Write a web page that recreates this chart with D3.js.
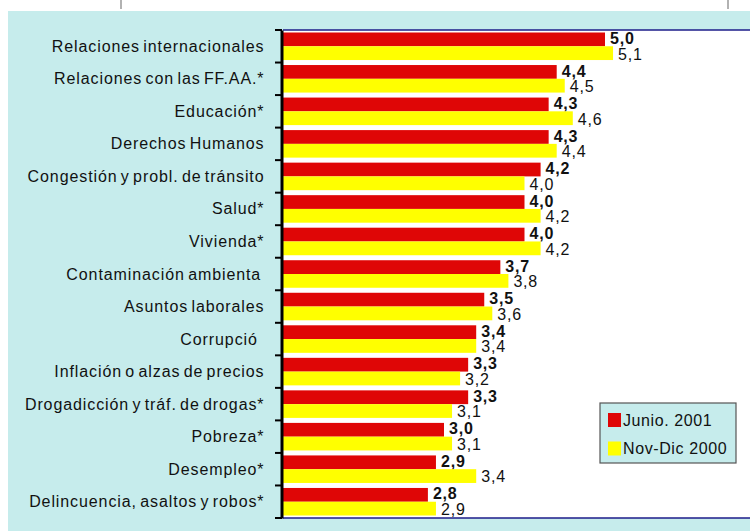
<!DOCTYPE html>
<html lang="es">
<head>
<meta charset="utf-8">
<title>Problemas del país</title>
<script src="https://d3js.org/d3.v7.min.js"></script>
<style>
  body { margin: 0; background: #fff; }
  svg { display: block; font-family: "Liberation Sans", Arial, sans-serif; }
  .cat { font-size: 16px; letter-spacing: 0.9px; word-spacing: -2px; fill: #111; }
  .val { font-size: 16px; letter-spacing: 0.8px; fill: #111; }
  .val.bold { font-weight: bold; }
  .leg { font-size: 16px; letter-spacing: 0.6px; fill: #111; }
</style>
</head>
<body>
<svg width="750" height="531"></svg>
<script>
  // data
  var categories = [
    "Relaciones internacionales",
    "Relaciones con las FF.AA.*",
    "Educación*",
    "Derechos Humanos",
    "Congestión y probl. de tránsito",
    "Salud*",
    "Vivienda*",
    "Contaminación ambienta\u00a0",
    "Asuntos laborales",
    "Corrupció\u00a0\u00a0",
    "Inflación o alzas de precios",
    "Drogadicción y tráf. de drogas*",
    "Pobreza*",
    "Desempleo*",
    "Delincuencia, asaltos y robos*"
  ];
  var junio2001 = [5.0, 4.4, 4.3, 4.3, 4.2, 4.0, 4.0, 3.7, 3.5, 3.4, 3.3, 3.3, 3.0, 2.9, 2.8];
  var novdic2000 = [5.1, 4.5, 4.6, 4.4, 4.0, 4.2, 4.2, 3.8, 3.6, 3.4, 3.2, 3.1, 3.1, 3.4, 2.9];
  var seriesNames = ["Junio. 2001", "Nov-Dic 2000"];
  var colors = ["#df0606", "#ffff00"];

  var svg = d3.select("svg");

  // outer frame
  svg.append("rect").attr("x", 8).attr("y", 11).attr("width", 742).attr("height", 520).attr("fill", "#c6ecec");
  [121, 728].forEach(function(x) {
    svg.append("line").attr("x1", x).attr("x2", x).attr("y1", 0).attr("y2", 9)
      .attr("stroke", "#999").attr("stroke-width", 1.5);
  });

  var plotLeft = 283, plotTop = 30, plotBottom = 518;

  var x = d3.scaleLinear().domain([1, 7]).range([plotLeft, plotLeft + 6 * 80.5]);
  var y = d3.scaleBand().domain(categories).range([plotTop, plotBottom]);
  var inner = d3.scaleBand().domain(seriesNames).range([2.5, y.bandwidth() - 2.5]);

  // plot area
  svg.append("rect").attr("x", plotLeft).attr("y", plotTop).attr("width", 750 - plotLeft).attr("height", plotBottom - plotTop).attr("fill", "#fff");
  svg.append("line").attr("x1", plotLeft).attr("x2", 750).attr("y1", plotTop).attr("y2", plotTop).attr("stroke", "#1c1c8a").attr("stroke-width", 1.5);
  svg.append("line").attr("x1", plotLeft).attr("x2", 750).attr("y1", plotBottom).attr("y2", plotBottom).attr("stroke", "#1c1c8a").attr("stroke-width", 1.5);

  var fmt = function(v) { return d3.format(".1f")(v).replace(".", ","); };

  var series = [junio2001, novdic2000];
  series.forEach(function(vals, s) {
    var g = svg.append("g");
    g.selectAll("rect")
      .data(vals)
      .enter().append("rect")
      .attr("x", x(1))
      .attr("y", function(d, i) { return y(categories[i]) + inner(seriesNames[s]); })
      .attr("width", function(d) { return x(d) - x(1); })
      .attr("height", inner.bandwidth())
      .attr("fill", colors[s]);
    g.selectAll("text")
      .data(vals)
      .enter().append("text")
      .attr("class", s === 0 ? "val bold" : "val")
      .attr("x", function(d) { return x(d) + 5; })
      .attr("y", function(d, i) { return y(categories[i]) + (s === 0 ? 14 : 29.5); })
      .text(fmt);
  });

  // y axis
  var axis = d3.axisLeft(y).tickSize(0).tickPadding(17);
  var ax = svg.append("g").attr("transform", "translate(" + (plotLeft - 1.5) + ",0)").call(axis);
  ax.attr("font-family", null).attr("font-size", null);
  ax.select(".domain").attr("stroke", "#000").attr("stroke-width", 3);
  ax.selectAll(".tick text").attr("class", "cat").attr("dy", null).attr("y", 5.5).attr("fill", null);
  ax.selectAll(".tick line").remove();
  // category boundary ticks
  var edges = categories.map(function(c) { return y(c); }).concat([plotBottom]);
  svg.append("g").selectAll("line")
    .data(edges)
    .enter().append("line")
    .attr("x1", plotLeft - 8).attr("x2", plotLeft - 1)
    .attr("y1", function(d) { return d; }).attr("y2", function(d) { return d; })
    .attr("stroke", "#000").attr("stroke-width", 2);

  // legend
  var leg = svg.append("g").attr("transform", "translate(600,403)");
  leg.append("rect").attr("width", 136).attr("height", 60).attr("fill", "#c6ecec")
    .attr("stroke", "#555").attr("stroke-width", 1.2);
  seriesNames.forEach(function(n, i) {
    leg.append("rect").attr("x", 8).attr("y", 10 + i * 28.5).attr("width", 13).attr("height", 14).attr("fill", colors[i]);
    leg.append("text").attr("class", "leg").attr("x", 23).attr("y", 22.5 + i * 28.5).text(n);
  });
</script>
</body>
</html>
